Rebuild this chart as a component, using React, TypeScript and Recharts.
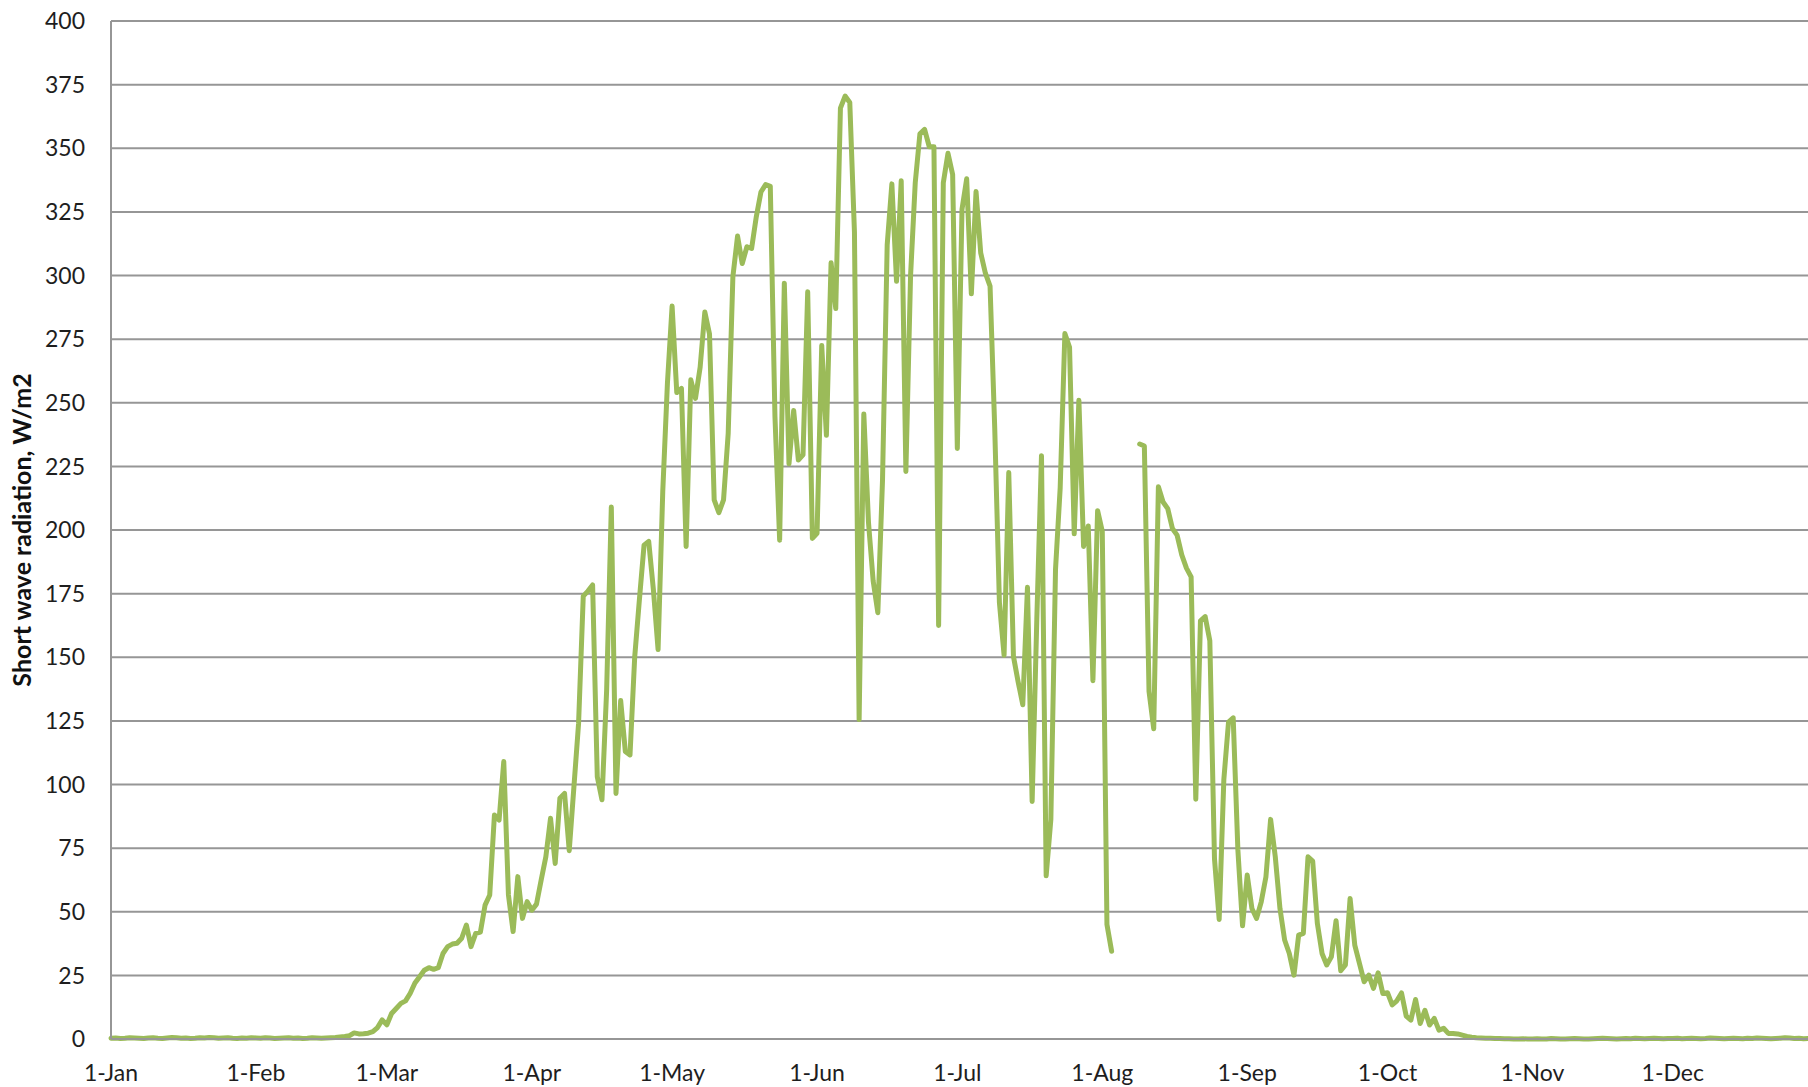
import React from 'react';
import { LineChart, Line, XAxis, YAxis, CartesianGrid, Label } from 'recharts';

// Tick labels / positions
const monthTickLabels = ['1-Jan', '1-Feb', '1-Mar', '1-Apr', '1-May', '1-Jun', '1-Jul', '1-Aug', '1-Sep', '1-Oct', '1-Nov', '1-Dec'];
const monthStartDays = [0, 31, 59, 90, 120, 151, 181, 212, 243, 273, 304, 334];
const yTicks = [0, 25, 50, 75, 100, 125, 150, 175, 200, 225, 250, 275, 300, 325, 350, 375, 400];

// Daily short wave radiation (W/m2), one array per month
const jan = [0.3, 0.4, 0.2, 0.3, 0.5, 0.4, 0.3, 0.2, 0.4, 0.5, 0.3, 0.2, 0.4, 0.6, 0.5, 0.3, 0.4, 0.2, 0.3, 0.5, 0.4, 0.6, 0.5, 0.3, 0.4, 0.5, 0.3, 0.2, 0.4, 0.3, 0.5];
const feb = [0.4, 0.3, 0.5, 0.4, 0.2, 0.3, 0.4, 0.5, 0.3, 0.4, 0.2, 0.3, 0.5, 0.4, 0.3, 0.4, 0.5, 0.6, 0.8, 1.0, 1.3, 2.4, 2.0, 2.1, 2.3, 2.9, 4.5, 7.5];
const mar = [5.6, 10, 12, 14, 15, 18, 22, 24.5, 27, 28, 27.4, 28, 33.6, 36.3, 37.3, 37.6, 39.6, 44.8, 36.3, 41.5, 42, 52.6, 56.6, 88, 86, 109, 56.6, 42.2, 63.8, 47.4, 54];
const apr = [50.6, 53, 62.5, 71.6, 86.7, 69, 94.6, 96.5, 74, 99, 124, 174, 176, 178.4, 103, 94, 137, 209, 96.5, 133, 113, 111.6, 150, 172.5, 194, 195.5, 176.5, 153, 215, 257.6];
const may = [288, 254, 255.6, 193.5, 259, 251.7, 264, 285.7, 277, 211.8, 206.8, 211.8, 238, 299.5, 315.5, 304.7, 311.3, 310.6, 323, 332.8, 335.7, 335, 244.5, 196, 297, 226, 247, 227.5, 229.5, 293.6, 196.7];
const jun = [198.7, 272.5, 237.2, 305, 287, 365.8, 370.5, 368, 317, 125.5, 245.6, 203, 180, 167.5, 219.6, 312, 336, 297.7, 337.2, 223, 300, 336.4, 355.7, 357.4, 350.6, 350.6, 162.5, 336.4, 348, 339.7];
const jul = [232, 326, 338, 292.8, 333, 308.9, 300.9, 295.8, 240, 171.5, 150.8, 222.6, 150.4, 140.4, 131.3, 177.5, 93.3, 165, 229.2, 64.1, 86.2, 184.5, 216.6, 277.2, 271.8, 198.5, 251, 193.5, 201.6, 140.8, 207.6];
const aug = [199.5, 45, 34.5, null, null, null, null, null, 233.8, 233, 136.6, 121.9, 217, 211, 208.4, 200.6, 198, 190.2, 185, 181.6, 94.2, 164.3, 166, 156.5, 70.8, 47, 102, 124.5, 126.2, 74.3, 44.5];
const sep = [64.4, 51.3, 47.4, 53.9, 63.7, 86.3, 71.6, 51.3, 38.9, 33.6, 25.1, 40.8, 41.5, 71.6, 69.9, 45.4, 33.6, 29.1, 32.3, 46.5, 26.8, 29.1, 55.2, 36.9, 29.7, 22.5, 25.1, 19.9, 26, 17.9];
const oct = [18.2, 13.4, 15, 18.1, 9, 7.4, 15.5, 6.1, 11.3, 5.5, 8.1, 3.5, 4.2, 2.2, 2.2, 2.0, 1.5, 1.0, 0.7, 0.5, 0.4, 0.3, 0.3, 0.2, 0.2, 0.1, 0.1, 0, 0, 0.1, 0];
const nov = [0, 0.1, 0, 0, 0.2, 0.1, 0, 0, 0.1, 0.2, 0.1, 0, 0, 0.1, 0.2, 0.3, 0.2, 0.1, 0, 0.1, 0.2, 0.1, 0.3, 0.2, 0.1, 0.2, 0.3, 0.2, 0.1, 0.2];
const dec = [0.2, 0.3, 0.1, 0.2, 0.3, 0.2, 0.1, 0.2, 0.4, 0.3, 0.2, 0.1, 0.2, 0.3, 0.2, 0.1, 0.3, 0.2, 0.4, 0.3, 0.2, 0.1, 0.2, 0.3, 0.5, 0.4, 0.2, 0.3, 0.1, 0.2, 0.3];

const radiation: (number | null)[] = [...jan, ...feb, ...mar, ...apr, ...may, ...jun, ...jul, ...aug, ...sep, ...oct, ...nov, ...dec];
const data = radiation.map((v, i) => ({ day: i, value: v }));

const GRID = '#969696';
const FONT = 'Lato, "Noto Sans", sans-serif';

export default function App() {
  return (
    <div style={{ position: 'fixed', left: 0, top: 0, width: 1808, height: 1087, overflow: 'hidden', background: '#fff' }}>
      <LineChart width={1820} height={1087} data={data} margin={{ top: 21, right: 7, bottom: 0, left: 0 }}>
        <CartesianGrid vertical={false} stroke={GRID} strokeWidth={2} />
        <XAxis
          dataKey="day"
          type="number"
          domain={[0, 364]}
          ticks={monthStartDays}
          interval={0}
          tickFormatter={(d: number) => monthTickLabels[monthStartDays.indexOf(d)]}
          tickLine={false}
          tickSize={0}
          tickMargin={26}
          axisLine={{ stroke: GRID, strokeWidth: 2 }}
          height={48}
          tick={{ fontFamily: FONT, fontSize: 23, fill: '#1e1e1e' }}
        />
        <YAxis
          type="number"
          domain={[0, 400]}
          ticks={yTicks}
          interval={0}
          width={111}
          tickLine={false}
          tickSize={0}
          tickMargin={26}
          axisLine={{ stroke: GRID, strokeWidth: 2 }}
          tick={{ fontFamily: FONT, fontSize: 23, fill: '#1e1e1e' }}
        >
          <Label
            content={() => (
              <text
                x={21}
                y={530}
                transform="rotate(-90, 21, 530)"
                textAnchor="middle"
                dominantBaseline="central"
                style={{ fontFamily: FONT, fontWeight: 700, fontSize: 25, fill: '#111' }}
              >
                Short wave radiation, W/m2
              </text>
            )}
          />
        </YAxis>
        <Line
          type="linear"
          dataKey="value"
          stroke="#9BBB59"
          strokeWidth={5}
          dot={false}
          activeDot={false}
          isAnimationActive={false}
          strokeLinejoin="round"
          strokeLinecap="round"
        />
      </LineChart>
    </div>
  );
}
